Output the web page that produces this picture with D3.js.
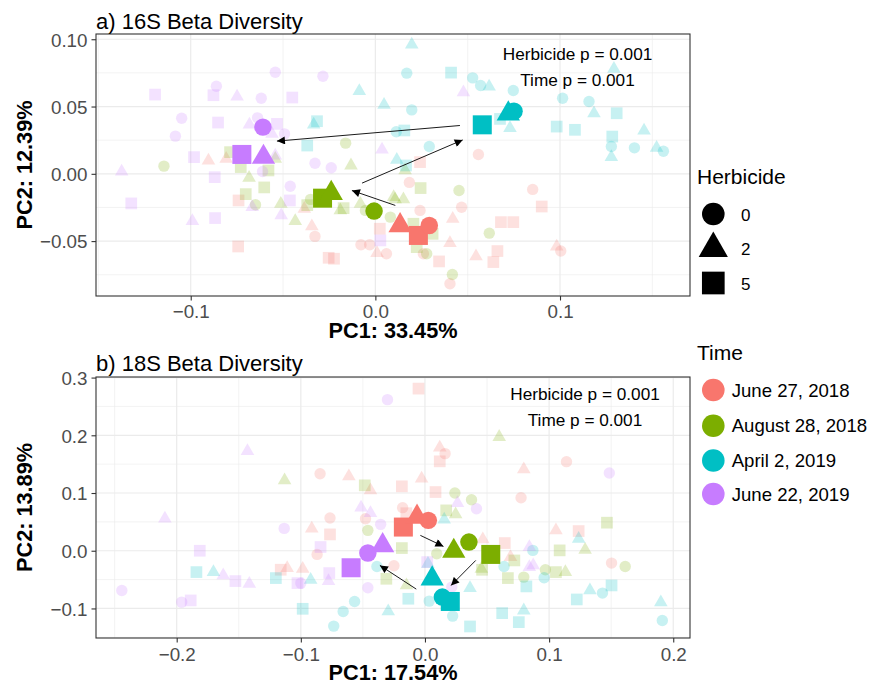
<!DOCTYPE html>
<html>
<head>
<meta charset="utf-8">
<script src="https://cdn.jsdelivr.net/npm/d3@7"></script>
<style>
  body { margin: 0; background: #fff; }
  svg text { font-family: 'Liberation Sans', Arial, Helvetica, sans-serif; }
</style>
</head>
<body>
<div id="chart"></div>
<script>
// !--------------------------------------------------------------data

const timeLevels = ['June 27, 2018', 'August 28, 2018', 'April 2, 2019', 'June 22, 2019'];
const timeColors = ['#F8766D', '#7CAE00', '#00BFC4', '#C77CFF'];
const herbLevels = [0, 2, 5];

// 16S samples, one list per time point: [PC1, PC2, herbicide]
const a_jun18 = [
  [-0.0904, 0.0099, 2], [-0.0808, 0.0111, 2], [-0.0741, -0.0198, 5], [-0.0743, -0.054, 5],
  [-0.0385, -0.026, 2], [-0.0344, -0.0391, 2], [-0.0327, -0.0465, 0], [-0.0253, -0.0624, 5],
  [-0.0224, -0.0631, 5], [-0.0078, -0.0527, 0], [-0.0031, -0.0527, 0], [0.0009, -0.0589, 2],
  [0.006, -0.0594, 0], [0.0024, -0.0408, 5], [0.0242, 0.0087, 5], [0.0184, -0.0064, 0],
  [0.0558, 0.0144, 0], [0.0242, -0.0272, 0], [0.0467, -0.0248, 0], [0.0419, -0.0334, 2],
  [0.0852, -0.0116, 0], [0.0901, -0.0243, 5], [0.068, -0.0359, 5], [0.0747, -0.0359, 5],
  [0.0404, -0.0515, 2], [0.0545, -0.0614, 2], [0.0661, -0.0574, 5], [0.0639, -0.0656, 5],
  [0.0345, -0.0651, 5], [0.0404, -0.0817, 0], [0.026, -0.0594, 0], [0.0982, -0.054, 2],
  [0.1004, -0.0574, 0]
];
const a_aug18 = [
  [-0.0161, 0.0228, 0], [-0.1145, 0.0057, 0], [-0.0132, 0.0062, 2], [-0.0787, 0.0161, 5],
  [-0.0729, 0.005, 5], [-0.0542, 0.0111, 2], [-0.0579, 0.0025, 5], [-0.0684, -0.003, 2],
  [-0.0602, -0.0101, 5], [-0.0702, -0.0151, 5], [-0.0649, -0.023, 0], [-0.0512, -0.0223, 2],
  [-0.0434, -0.0351, 2], [-0.0369, -0.0233, 5], [-0.0351, -0.019, 0], [-0.0172, -0.0255, 5],
  [-0.019, -0.0272, 2], [-0.0081, -0.0223, 2], [-0.0054, -0.0272, 0], [0.0081, -0.0322, 0],
  [0.0099, -0.0173, 2], [0.0245, -0.0106, 5], [0.0453, -0.0124, 0], [0.0107, -0.019, 2],
  [0.0152, -0.019, 2], [0.0161, 0.0025, 2], [0.0206, -0.0371, 5], [0.031, -0.0446, 5],
  [0.0617, -0.0441, 0], [0.0278, -0.0594, 0], [0.0417, -0.0748, 0], [0.0224, -0.0545, 5]
];
const a_apr19 = [
  [0.0197, 0.096, 2], [0.017, 0.0748, 0], [0.041, 0.0752, 5], [0.0527, 0.0713, 0],
  [0.057, 0.0656, 0], [0.0616, 0.0649, 2], [0.0747, 0.0619, 0], [0.0197, 0.0475, 0],
  [0.0157, 0.0322, 5], [0.0113, 0.0313, 0], [0.0292, 0.0203, 0], [0.0116, 0.0104, 2],
  [0.0166, 0.0062, 5], [0.0729, 0.0339, 2], [0.0675, 0.0408, 5], [0.1014, 0.0562, 0],
  [0.1157, 0.0537, 0], [0.1184, 0.045, 2], [0.1307, 0.045, 5], [0.1292, 0.078, 2],
  [0.0982, 0.0351, 5], [0.1081, 0.0327, 5], [0.1283, 0.0277, 5], [0.1278, 0.0203, 0],
  [0.1278, 0.0124, 2], [0.1403, 0.0193, 0], [0.1455, 0.0322, 2], [0.1523, 0.0193, 2],
  [0.156, 0.0168, 0], [-0.0087, 0.0614, 2], [0.0047, 0.0512, 2], [-0.0316, 0.0391, 5],
  [-0.0334, 0.0366, 2], [-0.0369, 0.021, 5]
];
const a_jun19 = [
  [-0.0542, 0.0755, 0], [-0.0284, 0.0725, 0], [-0.1193, 0.0589, 5], [-0.0861, 0.0651, 0],
  [-0.0877, 0.0584, 5], [-0.0749, 0.0574, 2], [-0.0618, 0.0562, 0], [-0.045, 0.0567, 5],
  [-0.1049, 0.0413, 0], [-0.1083, 0.028, 0], [-0.0852, 0.0381, 5], [-0.0638, 0.0416, 0],
  [-0.0682, 0.0366, 2], [-0.0533, 0.0371, 5], [-0.056, 0.0297, 2], [-0.0492, 0.0297, 0],
  [-0.0542, 0.0136, 2], [-0.0982, 0.0124, 5], [-0.1374, 0.0017, 2], [-0.0611, 0.0017, 0],
  [-0.0327, 0.0079, 0], [-0.0239, 0.0045, 0], [-0.087, -0.0025, 5], [-0.0461, -0.0092, 0],
  [-0.1322, -0.022, 5], [-0.0463, -0.0198, 5], [-0.0667, -0.0248, 2], [-0.051, -0.0309, 2],
  [-0.0991, -0.0351, 2], [-0.0868, -0.0329, 5], [0.0036, 0.018, 2], [0.0027, -0.0495, 5],
  [0.0477, 0.0606, 2]
];
// group centroids: [time index, herbicide, PC1, PC2]
const a_centroids = [
  [0, 2, 0.0134, -0.0384], [0, 5, 0.0233, -0.0458], [0, 0, 0.0292, -0.0384],
  [1, 0, -0.0007, -0.0277], [1, 5, -0.0286, -0.0181], [1, 2, -0.0239, -0.0144],
  [2, 5, 0.0579, 0.0364], [2, 0, 0.0751, 0.0465], [2, 2, 0.072, 0.0446],
  [3, 0, -0.0609, 0.0347], [3, 5, -0.0723, 0.0144], [3, 2, -0.0606, 0.0124]
];
// trajectory arrows: [x1, y1, x2, y2]
const a_arrows = [
  [0.0108, -0.0235, -0.0127, -0.0124],
  [-0.0072, -0.0069, 0.0473, 0.0252],
  [0.0458, 0.0359, -0.0533, 0.0243]
];

// 18S samples
const b_jun18 = [
  [-0.0052, 0.2809, 5], [0.0119, 0.1786, 2], [0.0162, 0.1682, 0], [0.0119, 0.1549, 5],
  [0.114, 0.1543, 0], [0.0796, 0.141, 2], [-0.0845, 0.1335, 0], [-0.0613, 0.1289, 2],
  [-0.0027, 0.1249, 2], [-0.0186, 0.1116, 5], [-0.0439, 0.1046, 2], [0.0085, 0.1017, 5],
  [0.0774, 0.0919, 0], [-0.0765, 0.0566, 0], [-0.0912, 0.0382, 2], [-0.0765, 0.0283, 5],
  [-0.0479, 0.0555, 0], [-0.018, 0.0746, 0], [0.1055, 0.0353, 2], [0.1238, 0.0341, 5],
  [0.0643, 0.0133, 5], [0.0466, 0.0197, 2], [0.0689, -0.011, 2], [0.1503, -0.0214, 0],
  [-0.0869, -0.0064, 0], [-0.1162, -0.0329, 5], [-0.111, -0.03, 2], [-0.0985, -0.0312, 2],
  [-0.025, -0.026, 0], [-0.015, 0.065, 5]
];
const b_aug18 = [
  [0.0598, 0.1971, 2], [-0.1131, 0.122, 2], [-0.0485, 0.1133, 5], [0.0241, 0.1, 0],
  [0.0375, 0.0884, 0], [0.0171, 0.0699, 5], [0.0247, 0.063, 2], [-0.046, 0.0353, 0],
  [-0.0186, 0.0046, 5], [0.1466, 0.0486, 5], [0.1085, 0.0006, 5], [0.129, 0.0017, 2],
  [0.0095, -0.0052, 0], [0.072, -0.0168, 5], [0.0454, -0.0312, 2], [0.046, -0.033, 5],
  [0.0668, -0.0474, 5], [0.0796, -0.0457, 0], [0.097, -0.033, 0], [0.1055, -0.037, 5],
  [0.1131, -0.037, 2], [0.1613, -0.0272, 0], [-0.0311, -0.0486, 5], [-0.0149, -0.0601, 2]
];
const b_apr19 = [
  [-0.1841, -0.037, 5], [-0.1704, -0.037, 2], [-0.1201, -0.0474, 5], [-0.0921, -0.0503, 2],
  [-0.0387, -0.0272, 0], [-0.0985, -0.1006, 5], [-0.0567, -0.0879, 0], [-0.0659, -0.1052, 0],
  [-0.0735, -0.1306, 0], [-0.0296, -0.1052, 2], [-0.0134, -0.0832, 5], [0.0034, -0.0873, 0],
  [0.0024, -0.0225, 2], [0.0223, -0.1133, 0], [0.0363, -0.1312, 5], [0.0363, -0.0647, 2],
  [0.0637, -0.0272, 0], [0.0817, -0.0618, 5], [0.096, -0.0468, 0], [0.0622, -0.1081, 5],
  [0.0796, -0.1035, 2], [0.0756, -0.1237, 5], [0.0869, 0.0006, 0], [0.1238, 0.0208, 2],
  [0.1223, -0.0844, 5], [0.1329, -0.0688, 2], [0.143, -0.0734, 0], [0.1503, -0.0601, 5],
  [0.19, -0.0896, 2], [0.1912, -0.1208, 0], [0.0155, 0.0538, 2]
];
const b_jun19 = [
  [-0.0302, 0.2618, 0], [-0.143, 0.1728, 2], [-0.2095, 0.0555, 2], [0.1485, 0.1347, 0],
  [0.0262, 0.0827, 2], [0.0415, 0.0728, 0], [-0.0515, 0.0746, 2], [-0.0439, 0.0653, 2],
  [-0.0357, 0.0457, 0], [-0.1134, 0.0387, 0], [-0.1814, 0.0, 5], [-0.0841, 0.0064, 5],
  [-0.1625, -0.0428, 2], [-0.1527, -0.0526, 5], [-0.1415, -0.0572, 2], [-0.1027, -0.0561, 5],
  [-0.1, -0.0561, 0], [-0.0777, -0.0526, 2], [-0.0771, -0.0387, 5], [-0.2442, -0.0688, 0],
  [-0.196, -0.089, 0], [-0.1887, -0.0861, 5], [-0.046, -0.0642, 0], [0.0841, 0.0064, 2],
  [0.0872, -0.0254, 2], [0.0841, -0.0283, 2], [0.0018, -0.0197, 5], [0.0216, -0.063, 0]
];
const b_centroids = [
  [0, 5, -0.0174, 0.041], [0, 2, -0.0064, 0.0584], [0, 0, 0.0027, 0.0526],
  [1, 2, 0.0232, -0.0006], [1, 0, 0.0354, 0.015], [1, 5, 0.053, -0.0064],
  [2, 0, 0.014, -0.0803], [2, 5, 0.0204, -0.0879], [2, 2, 0.0058, -0.0486],
  [3, 5, -0.0595, -0.0295], [3, 0, -0.046, -0.004], [3, 2, -0.0341, 0.0092]
];
const b_arrows = [
  [-0.0037, 0.0266, 0.0149, 0.0075],
  [0.0409, -0.0168, 0.021, -0.0601],
  [-0.007, -0.0665, -0.0363, -0.0254]
];

// axis breaks and labels
const a_xTicks = [-0.1, 0, 0.1];
const a_xLabels = ['\u22120.1', '0.0', '0.1'];
const a_yTicks = [-0.05, 0, 0.05, 0.1];
const a_yLabels = ['\u22120.05', '0.00', '0.05', '0.10'];
const b_xTicks = [-0.2, -0.1, 0, 0.1, 0.2];
const b_xLabels = ['\u22120.2', '\u22120.1', '0.0', '0.1', '0.2'];
const b_yTicks = [-0.1, 0, 0.1, 0.2, 0.3];
const b_yLabels = ['\u22120.1', '0.0', '0.1', '0.2', '0.3'];

// !----------------------------------------------------------graph

const svg = d3.select('#chart')
  .append('svg')
  .attr('width', 869)
  .attr('height', 684);

const shapeOf = { 0: d3.symbolCircle, 2: d3.symbolTriangle, 5: d3.symbolSquare };
const smallSize = { 0: 102, 2: 80, 5: 137 };
const bigSize = { 0: 240, 2: 235, 5: 361 };

const panels = [
  {
    box: { left: 96, top: 34, right: 690, bottom: 296 },
    xDomain: [-0.1513, 0.1704], yDomain: [-0.0908, 0.1039],
    xTicks: a_xTicks, xLabels: a_xLabels, yTicks: a_yTicks, yLabels: a_yLabels,
    xMinor: [-0.15, -0.05, 0.05, 0.15], yMinor: [-0.075, -0.025, 0.025, 0.075],
    groups: [a_jun18, a_aug18, a_apr19, a_jun19],
    centroids: a_centroids, arrows: a_arrows,
    title: 'a) 16S Beta Diversity', xTitle: 'PC1: 33.45%', yTitle: 'PC2: 12.39%',
    noteX: 577.5, noteY: 60, titleY: 28.5, xTickY: 318, xTitleY: 337.5
  },
  {
    box: { left: 96, top: 377, right: 690, bottom: 638 },
    xDomain: [-0.265, 0.2135], yDomain: [-0.1512, 0.301],
    xTicks: b_xTicks, xLabels: b_xLabels, yTicks: b_yTicks, yLabels: b_yLabels,
    xMinor: [-0.25, -0.15, -0.05, 0.05, 0.15], yMinor: [-0.15, -0.05, 0.05, 0.15, 0.25],
    groups: [b_jun18, b_aug18, b_apr19, b_jun19],
    centroids: b_centroids, arrows: b_arrows,
    title: 'b) 18S Beta Diversity', xTitle: 'PC1: 17.54%', yTitle: 'PC2: 13.89%',
    noteX: 585, noteY: 400, titleY: 370.5, xTickY: 661, xTitleY: 679.5
  }
];

svg.append('defs')
  .append('marker')
  .attr('id', 'head')
  .attr('viewBox', '0 0 10 10')
  .attr('refX', 10)
  .attr('refY', 5)
  .attr('markerUnits', 'userSpaceOnUse')
  .attr('markerWidth', 9)
  .attr('markerHeight', 8)
  .attr('orient', 'auto')
  .append('path')
  .attr('d', 'M0,0 L10,5 L0,10 Z')
  .attr('fill', '#000');

panels.forEach((p) => {
  const b = p.box;
  const x = d3.scaleLinear().domain(p.xDomain).range([b.left, b.right]);
  const y = d3.scaleLinear().domain(p.yDomain).range([b.bottom, b.top]);
  const g = svg.append('g');

  g.append('rect')
    .attr('x', b.left).attr('y', b.top)
    .attr('width', b.right - b.left).attr('height', b.bottom - b.top)
    .attr('fill', '#fff');

  // grid
  g.selectAll('.minx').data(p.xMinor).enter().append('line')
    .attr('x1', (d) => x(d)).attr('x2', (d) => x(d))
    .attr('y1', b.top).attr('y2', b.bottom)
    .attr('stroke', '#EBEBEB').attr('stroke-width', 0.6);
  g.selectAll('.miny').data(p.yMinor).enter().append('line')
    .attr('y1', (d) => y(d)).attr('y2', (d) => y(d))
    .attr('x1', b.left).attr('x2', b.right)
    .attr('stroke', '#EBEBEB').attr('stroke-width', 0.6);
  g.selectAll('.majx').data(p.xTicks).enter().append('line')
    .attr('x1', (d) => x(d)).attr('x2', (d) => x(d))
    .attr('y1', b.top).attr('y2', b.bottom)
    .attr('stroke', '#EBEBEB').attr('stroke-width', 1.2);
  g.selectAll('.majy').data(p.yTicks).enter().append('line')
    .attr('y1', (d) => y(d)).attr('y2', (d) => y(d))
    .attr('x1', b.left).attr('x2', b.right)
    .attr('stroke', '#EBEBEB').attr('stroke-width', 1.2);

  // faint sample points
  const pts = [];
  p.groups.forEach((grp, ti) => grp.forEach((d) => pts.push({ x: d[0], y: d[1], h: d[2], t: ti })));
  g.selectAll('.pt').data(pts).enter().append('path')
    .attr('d', (d) => d3.symbol().type(shapeOf[d.h]).size(smallSize[d.h])())
    .attr('transform', (d) => `translate(${x(d.x)},${y(d.y)})`)
    .attr('fill', (d) => timeColors[d.t])
    .attr('fill-opacity', 0.22);

  // centroids
  g.selectAll('.cen').data(p.centroids).enter().append('path')
    .attr('d', (d) => d3.symbol().type(shapeOf[d[1]]).size(bigSize[d[1]])())
    .attr('transform', (d) => `translate(${x(d[2])},${y(d[3])})`)
    .attr('fill', (d) => timeColors[d[0]]);

  // arrows
  g.selectAll('.arr').data(p.arrows).enter().append('line')
    .attr('x1', (d) => x(d[0])).attr('y1', (d) => y(d[1]))
    .attr('x2', (d) => x(d[2])).attr('y2', (d) => y(d[3]))
    .attr('stroke', '#000').attr('stroke-width', 0.9)
    .attr('marker-end', 'url(#head)');

  // border
  g.append('rect')
    .attr('x', b.left).attr('y', b.top)
    .attr('width', b.right - b.left).attr('height', b.bottom - b.top)
    .attr('fill', 'none').attr('stroke', '#333').attr('stroke-width', 1.1);

  // axes
  const xAxis = g.append('g')
    .attr('transform', `translate(0,${b.bottom})`)
    .call(d3.axisBottom(x).tickValues(p.xTicks).tickSize(4.5)
      .tickFormat((d, i) => p.xLabels[i]));
  const yAxis = g.append('g')
    .attr('transform', `translate(${b.left},0)`)
    .call(d3.axisLeft(y).tickValues(p.yTicks).tickSize(4.5).tickPadding(4)
      .tickFormat((d, i) => p.yLabels[i]));
  [xAxis, yAxis].forEach((ax) => {
    ax.select('.domain').remove();
    ax.selectAll('line').attr('stroke', '#333').attr('stroke-width', 1.1);
    ax.selectAll('text')
      .attr('fill', '#4D4D4D')
      .style('font-size', '18.8px')
      .style('font-family', "'Liberation Sans', Arial, sans-serif");
  });
  xAxis.selectAll('text').attr('dy', null).attr('y', p.xTickY - b.bottom);
  yAxis.selectAll('text').attr('dy', '0.36em');

  // titles
  g.append('text')
    .attr('x', b.left).attr('y', p.titleY)
    .style('font-size', '22px').attr('fill', '#000')
    .text(p.title);
  g.append('text')
    .attr('x', (b.left + b.right) / 2).attr('y', p.xTitleY)
    .attr('text-anchor', 'middle')
    .style('font-size', '21.7px').style('font-weight', 'bold')
    .text(p.xTitle);
  g.append('text')
    .attr('transform', `translate(31.5,${(b.top + b.bottom) / 2}) rotate(-90)`)
    .attr('text-anchor', 'middle')
    .style('font-size', '21.7px').style('font-weight', 'bold')
    .text(p.yTitle);

  // permanova notes
  g.append('text')
    .attr('x', p.noteX).attr('y', p.noteY)
    .attr('text-anchor', 'middle').style('font-size', '17.2px')
    .text('Herbicide p = 0.001');
  g.append('text')
    .attr('x', p.noteX).attr('y', p.noteY + 25.5)
    .attr('text-anchor', 'middle').style('font-size', '17.2px')
    .text('Time p = 0.001');
});

// legends
const legH = svg.append('g');
legH.append('text').attr('x', 697).attr('y', 183.5)
  .style('font-size', '21px').text('Herbicide');
const herbKeyY = [214, 248.5, 283];
const legendHerbSize = { 0: 401, 2: 370, 5: 515 };
legH.selectAll('.hk').data(herbLevels).enter().append('path')
  .attr('d', (d) => d3.symbol().type(shapeOf[d]).size(legendHerbSize[d])())
  .attr('transform', (d, i) => `translate(713.3,${herbKeyY[i]})`)
  .attr('fill', '#000');
legH.selectAll('.hl').data(herbLevels).enter().append('text')
  .attr('x', 741).attr('y', (d, i) => herbKeyY[i] + 6.5)
  .style('font-size', '17px')
  .text((d) => d);

const legT = svg.append('g');
legT.append('text').attr('x', 697).attr('y', 360)
  .style('font-size', '21px').text('Time');
const timeKeyY = [390, 425.7, 460.5, 494];
legT.selectAll('.tk').data(timeLevels).enter().append('circle')
  .attr('cx', 713.3).attr('cy', (d, i) => timeKeyY[i]).attr('r', 11.3)
  .attr('fill', (d, i) => timeColors[i]);
legT.selectAll('.tl').data(timeLevels).enter().append('text')
  .attr('x', 731.7).attr('y', (d, i) => timeKeyY[i] + 6.7)
  .style('font-size', '18.6px')
  .text((d) => d);
</script>
</body>
</html>
